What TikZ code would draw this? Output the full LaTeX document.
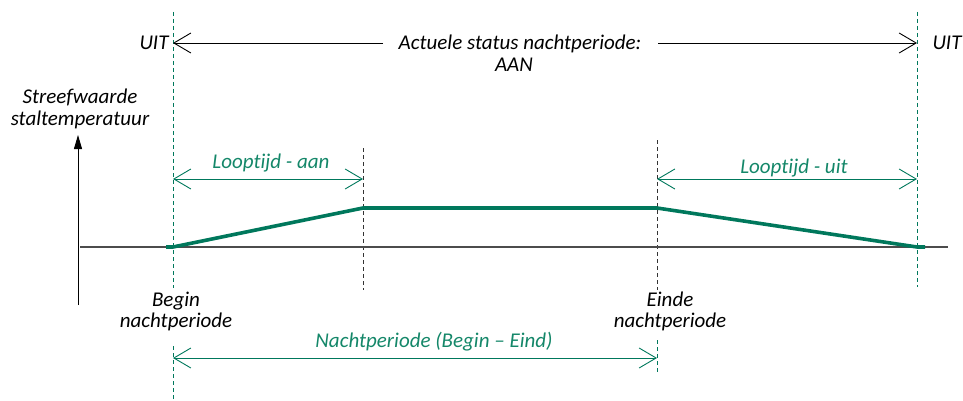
\documentclass[tikz,border=0pt]{standalone}
\usepackage{fontspec}
\setmainfont[Ligatures=NoCommon]{Carlito}
\usetikzlibrary{arrows.meta}
\definecolor{dgreen}{RGB}{0,120,92}
\definecolor{tgreen}{RGB}{20,135,105}
\begin{document}
\begin{tikzpicture}[x=1pt,y=-1pt,
  lbl/.style={font=\fontsize{21}{21}\selectfont\itshape, align=center, inner sep=0pt, anchor=base},
  glbl/.style={lbl, text=tgreen},
  gdash/.style={dgreen, dash pattern=on 4pt off 3pt, line width=0.8pt},
  kdash/.style={black!80, dash pattern=on 4pt off 3pt, line width=0.6pt},
  barb/.style={{Straight Barb[length=17pt,width=20pt,line width=0.9pt]}-{Straight Barb[length=17pt,width=20pt,line width=0.9pt]}},
  lbarb/.style={-{Straight Barb[length=17pt,width=20pt,line width=0.9pt]}},
]
\useasboundingbox (0,0) rectangle (963,401);
% key coordinates
\coordinate (b0) at (173,247);
\coordinate (b1) at (363,208);
\coordinate (b2) at (657,208);
\coordinate (b3) at (917,247);
% vertical dashed lines
\coordinate (lt) at (173,12); \coordinate (lm) at (173,288);
\coordinate (lm2) at (173,346); \coordinate (lb) at (173,401);
\coordinate (rt) at (917,12); \coordinate (rb) at (917,287);
\coordinate (at) at (363,148); \coordinate (ab) at (363,290);
\coordinate (et) at (657,140); \coordinate (eb) at (657,290);
\coordinate (em) at (657,340); \coordinate (ee) at (657,372);
\draw[gdash] (lt) -- (lm);
\draw[gdash] (lm2) -- (lb);
\draw[gdash] (rt) -- (rb);
\draw[kdash] (at) -- (ab);
\draw[kdash] (et) -- (eb);
\draw[gdash] (em) -- (ee);
% baseline and axis
\coordinate (bl) at (80,247); \coordinate (br) at (948,247);
\draw[black!70, line width=1.2pt] (bl) -- (br);
\coordinate (ax0) at (78,305); \coordinate (ax1) at (78,135);
\draw[line width=0.9pt, -{Triangle[length=14pt,width=8pt]}] (ax0) -- (ax1);
\node[lbl] (axl) at (80,125) {Streefwaarde\\staltemperatuur};
% green profile
\draw[dgreen, line width=3.6pt, line join=round] (166,247) -- (b0) -- (b1) -- (b2) -- (b3) -- (925,247);
% top status
\node[lbl] (uitl) at (154,50) {UIT};
\node[lbl] (uitr) at (947,50) {UIT};
\node[lbl] (stat) at (520,50) {Actuele status nachtperiode:};
\node[lbl] (aan) at (514,72) {AAN};
\coordinate (tl) at (173,43); \coordinate (tr) at (917,43);
\coordinate (tl0) at (383,43); \coordinate (tr0) at (658,43);
\draw[line width=0.9pt, lbarb] (tl0) -- (tl);
\draw[line width=0.9pt, lbarb] (tr0) -- (tr);
% looptijd arrows
\coordinate (la0) at (173,179); \coordinate (la1) at (363,179);
\coordinate (lu0) at (657,179); \coordinate (lu1) at (917,179);
\draw[dgreen, line width=0.9pt, barb] (la0) -- (la1);
\draw[dgreen, line width=0.9pt, barb] (lu0) -- (lu1);
\node[glbl] (lat) at (271,168) {Looptijd - aan};
\node[glbl] (lut) at (794,173) {Looptijd - uit};
% begin/einde labels
\node[lbl] (beg) at (176,327) {Begin\\nachtperiode};
\node[lbl] (ein) at (670,327) {Einde\\nachtperiode};
% nachtperiode arrow
\coordinate (n0) at (173,358); \coordinate (n1) at (657,358);
\draw[dgreen, line width=0.9pt, barb] (n0) -- (n1);
\node[glbl] (nt) at (434,347) {Nachtperiode (Begin – Eind)};
\end{tikzpicture}
\end{document}
